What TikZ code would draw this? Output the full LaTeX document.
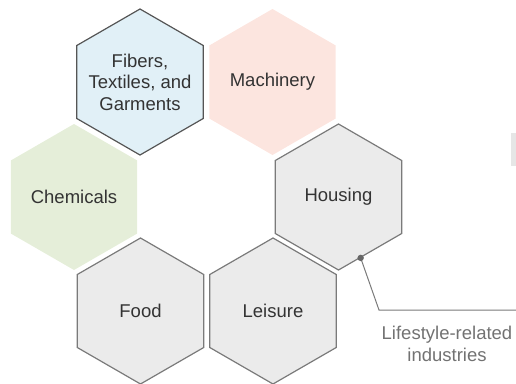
\documentclass[tikz,border=0pt]{standalone}
\usepackage{fontspec}
\setmainfont{Liberation Sans}
\usepackage{tikz}
\usetikzlibrary{calc, positioning, shapes.geometric}

\definecolor{hexblue}{HTML}{E1F0F7}
\definecolor{hexpink}{HTML}{FCE5DF}
\definecolor{hexgreen}{HTML}{E5EED9}
\definecolor{hexgray}{HTML}{EBEBEB}
\definecolor{tabgray}{HTML}{E6E6E6}
\definecolor{edgegray}{HTML}{7A7A7A}
\definecolor{edgedark}{HTML}{555555}
\definecolor{labelgray}{HTML}{333333}
\definecolor{notegray}{HTML}{727272}
\definecolor{dotgray}{HTML}{666666}

\begin{document}
\begin{tikzpicture}[x=1pt,y=-1pt,
  hexa/.style={regular polygon, regular polygon sides=6, regular polygon rotate=30,
    minimum size=146pt, inner sep=0pt, align=center, text=labelgray,
    font=\fontsize{18.5}{21.5}\selectfont},
  hextext/.style={align=center, text=labelgray, font=\fontsize{18.5}{21.5}\selectfont},
  grayhex/.style={hexa, fill=hexgray, draw=edgegray, line width=1.2pt}]
\useasboundingbox (0,0) rectangle (516,383);

\node[hexa, fill=hexblue, draw=edgedark, line width=1.2pt] (fibers) at (140,82) {};
\node[hextext] (fiberstext) at (fibers) {Fibers,\\Textiles, and\\Garments};
\node[hexa, fill=hexpink] (machinery) at (272.5,82) {Machinery};
\node[hexa, fill=hexgreen] (chemicals) at (74,197) {Chemicals};
\node[grayhex] (housing) at (338.5,197) {Housing};
\node[grayhex] (food) at (140.5,311) {Food};
\node[grayhex] (leisure) at (273,311) {Leisure};

\fill[tabgray] (511,133) rectangle (516,166);

\coordinate (bend) at (379,310);
\coordinate (lineend) at (516,310);
\node[align=center, text=notegray, font=\fontsize{18.5}{21.5}\selectfont] (note) at (447,344) {Lifestyle-related\\industries};

\draw[edgegray, line width=1pt] (housing.-70) -- (bend) -- (lineend);
\fill[dotgray] (housing.-70) circle (3.2);
\end{tikzpicture}
\end{document}
